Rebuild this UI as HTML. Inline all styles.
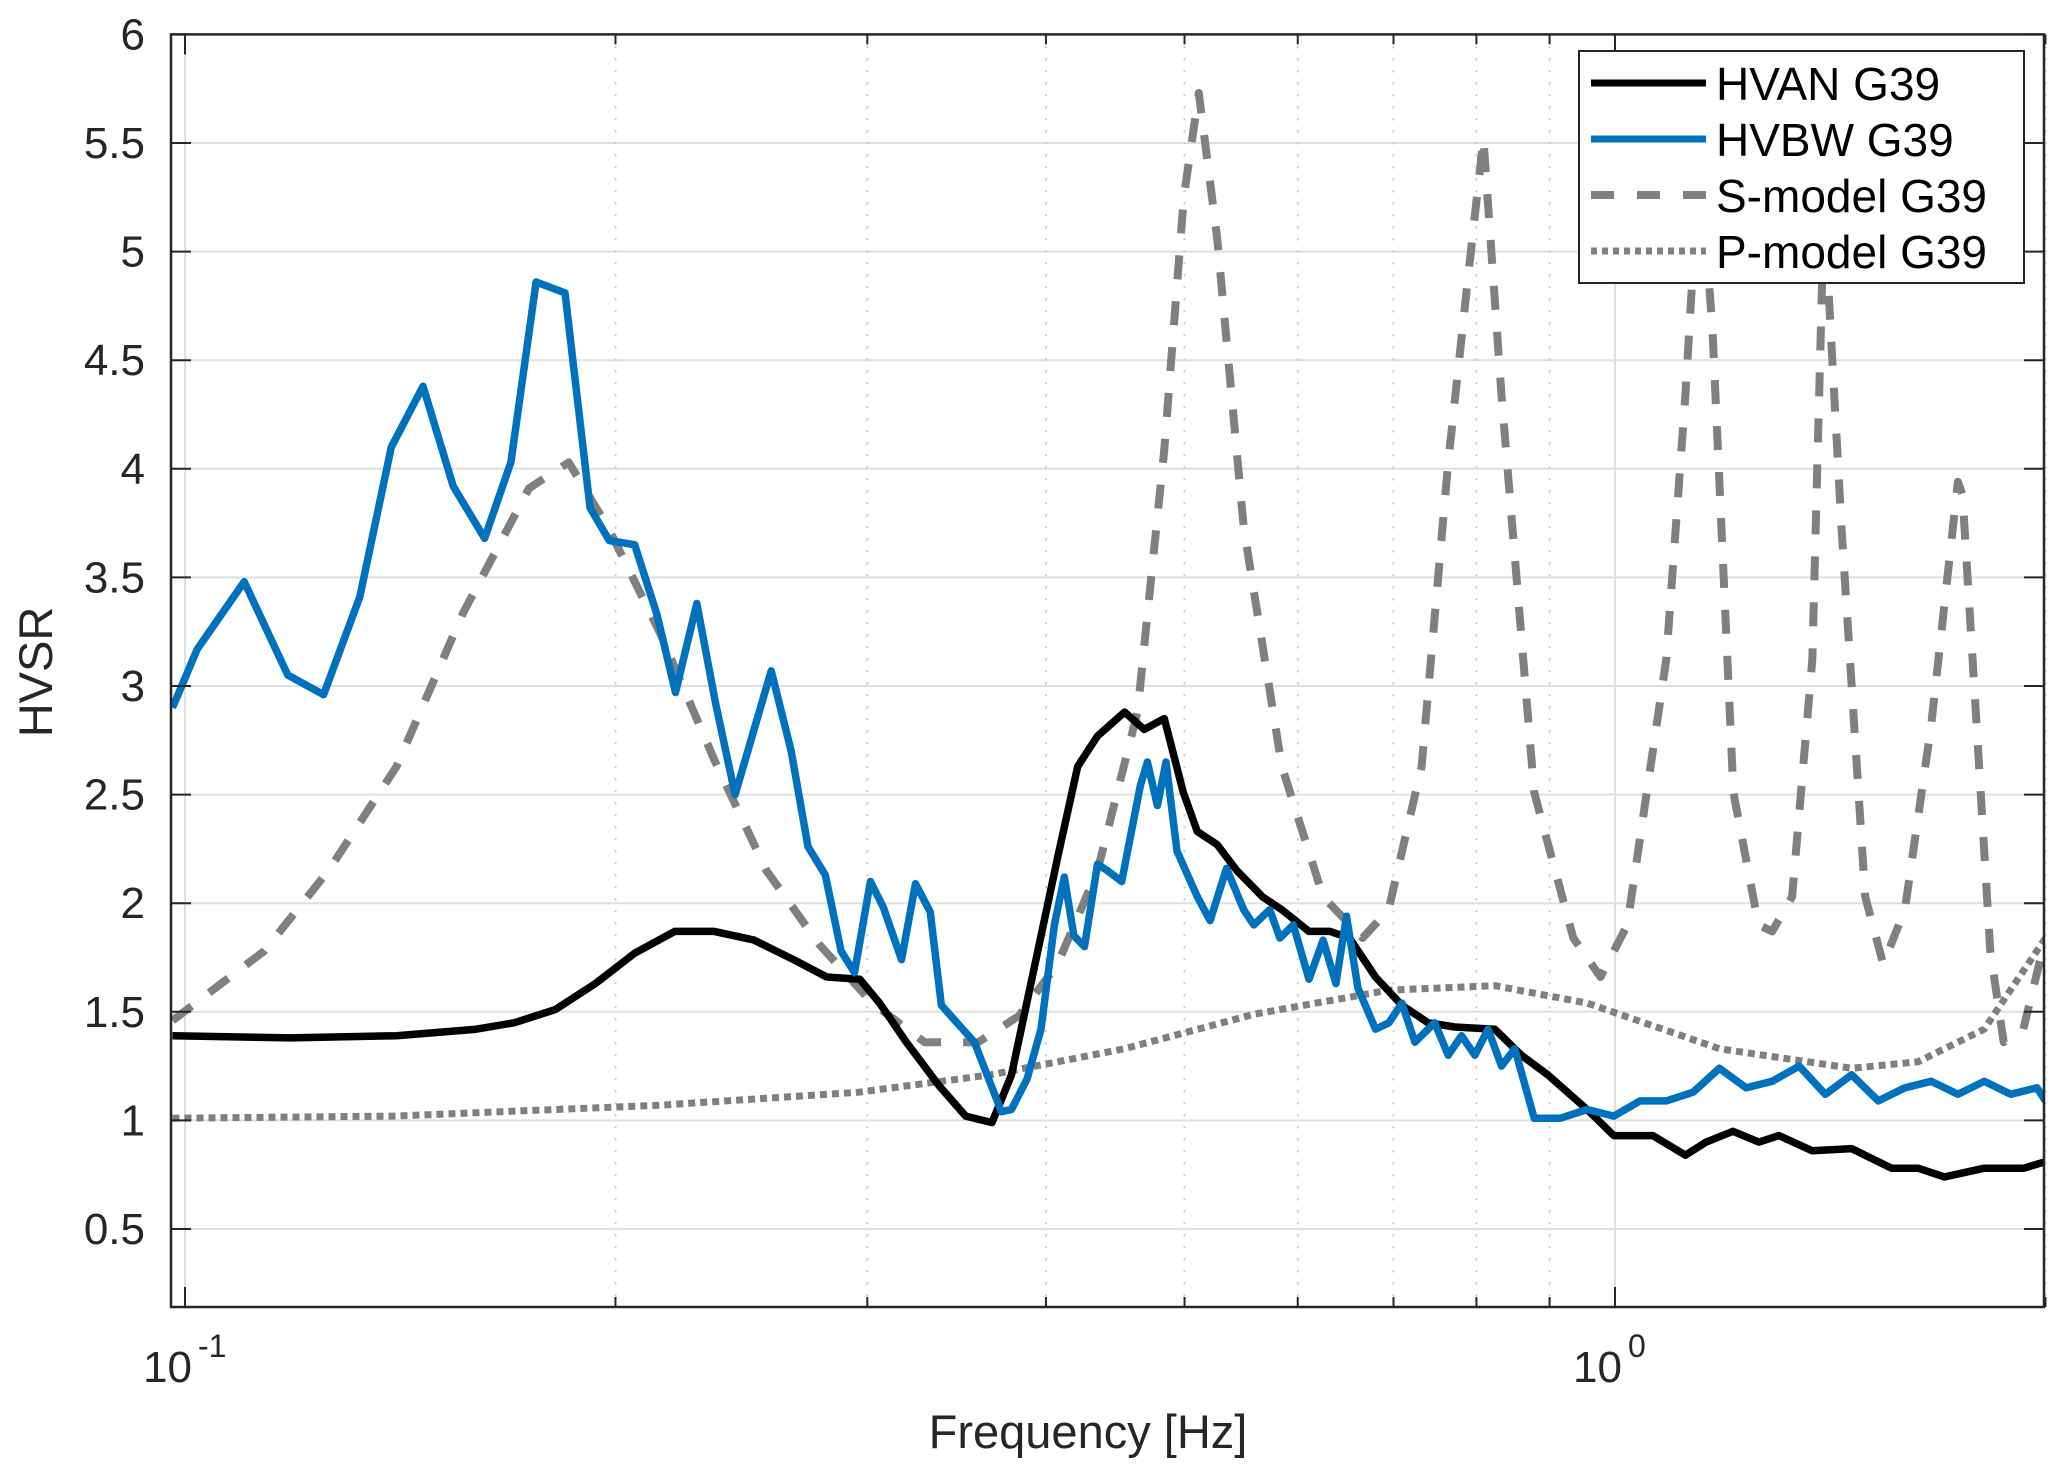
<!DOCTYPE html>
<html><head><meta charset="utf-8"><style>
html,body{margin:0;padding:0;background:#fff;}
svg{display:block;font-family:"Liberation Sans",sans-serif;}
</style></head><body>
<svg id="chart" width="2067" height="1473" viewBox="0 0 2067 1473">
<g id="grid"></g>
<g id="series"></g>
<g id="axes"></g>
<text x="1088" y="1448" font-size="47" fill="#262626" text-anchor="middle">Frequency [Hz]</text>
<text transform="translate(52,672) rotate(-90)" font-size="47" fill="#262626" text-anchor="middle">HVSR</text>
<g>
<rect x="1579" y="51" width="445" height="232" fill="#fff" stroke="#262626" stroke-width="2"/>
<line x1="1591" y1="83" x2="1706" y2="83" stroke="#000" stroke-width="7"/>
<line x1="1591" y1="139" x2="1706" y2="139" stroke="#0072bd" stroke-width="7"/>
<line x1="1591" y1="195" x2="1706" y2="195" stroke="#808080" stroke-width="8" stroke-dasharray="23,23"/>
<line x1="1591" y1="251" x2="1706" y2="251" stroke="#808080" stroke-width="7" stroke-dasharray="6,5"/>
<text x="1716" y="100" font-size="46" fill="#000">HVAN G39</text>
<text x="1716" y="156" font-size="46" fill="#000">HVBW G39</text>
<text x="1716" y="212" font-size="46" fill="#000">S-model G39</text>
<text x="1716" y="268" font-size="46" fill="#000">P-model G39</text>
</g>
</svg>
<script>
const yTicks=[0.5,1,1.5,2,2.5,3,3.5,4,4.5,5,5.5,6];
const yTickLabels=["0.5","1","1.5","2","2.5","3","3.5","4","4.5","5","5.5","6"];
const xMajor=[0.1,1];
const xMinor=[0.2,0.3,0.4,0.5,0.6,0.7,0.8,0.9,2];
const hvbwF=[0.098,0.102,0.110,0.118,0.125,0.1325,0.1394,0.1467,0.154,0.162,0.169,0.176,0.1844,0.192,0.198,0.2063,0.2138,0.2203,0.228,0.235,0.2425,0.257,0.2654,0.2727,0.2804,0.2876,0.2939,0.3015,0.3079,0.317,0.3242,0.332,0.338,0.3565,0.3723,0.3784,0.388,0.3968,0.4055,0.412,0.4184,0.4256,0.4346,0.4416,0.4519,0.4656,0.471,0.4786,0.4853,0.494,0.5104,0.521,0.535,0.55,0.559,0.5735,0.583,0.5957,0.611,0.625,0.638,0.649,0.661,0.680,0.695,0.7096,0.7245,0.748,0.7645,0.781,0.798,0.815,0.833,0.851,0.878,0.916,0.956,0.998,1.041,1.086,1.134,1.183,1.235,1.288,1.345,1.403,1.464,1.528,1.595,1.664,1.737,1.812,1.891,1.973,2.0];
const hvbwV=[2.9,3.17,3.48,3.05,2.96,3.41,4.10,4.38,3.92,3.68,4.03,4.86,4.81,3.82,3.67,3.65,3.33,2.97,3.38,2.92,2.50,3.07,2.70,2.26,2.13,1.78,1.68,2.10,1.98,1.74,2.09,1.96,1.53,1.36,1.04,1.05,1.19,1.42,1.9,2.12,1.85,1.80,2.18,2.15,2.10,2.54,2.65,2.45,2.65,2.24,2.03,1.92,2.16,1.97,1.90,1.97,1.84,1.90,1.65,1.83,1.63,1.94,1.61,1.42,1.45,1.54,1.36,1.45,1.30,1.39,1.30,1.42,1.25,1.33,1.01,1.01,1.05,1.02,1.09,1.09,1.13,1.24,1.15,1.18,1.25,1.12,1.21,1.09,1.15,1.18,1.12,1.18,1.12,1.15,1.09];
const hvanF=[0.098,0.1186,0.1406,0.1598,0.170,0.1815,0.1936,0.2063,0.220,0.2345,0.250,0.2665,0.281,0.2964,0.306,0.3195,0.3367,0.3515,0.3667,0.3784,0.3948,0.4076,0.421,0.4346,0.454,0.4686,0.484,0.499,0.5104,0.527,0.544,0.5668,0.5848,0.611,0.632,0.652,0.68,0.7096,0.74,0.7725,0.824,0.86,0.8975,0.956,0.998,1.063,1.12,1.158,1.209,1.261,1.302,1.374,1.464,1.561,1.629,1.70,1.812,1.931,2.0];
const hvanV=[1.39,1.38,1.39,1.42,1.45,1.51,1.63,1.77,1.87,1.87,1.83,1.74,1.66,1.65,1.54,1.36,1.16,1.02,0.99,1.21,1.78,2.21,2.63,2.77,2.88,2.80,2.85,2.51,2.33,2.27,2.15,2.03,1.97,1.87,1.87,1.84,1.66,1.53,1.45,1.43,1.42,1.30,1.21,1.05,0.93,0.93,0.84,0.90,0.95,0.90,0.93,0.86,0.87,0.78,0.78,0.74,0.78,0.78,0.81];
const sF=[0.098,0.1136,0.126,0.1406,0.1563,0.174,0.1855,0.1976,0.215,0.2345,0.255,0.2777,0.3025,0.329,0.3587,0.3828,0.4076,0.4346,0.4635,0.484,0.4994,0.5116,0.527,0.55,0.5848,0.625,0.666,0.6945,0.7324,0.7645,0.791,0.809,0.833,0.878,0.935,0.977,1.02,1.086,1.12,1.137,1.15,1.17,1.21,1.26,1.288,1.33,1.374,1.40,1.44,1.496,1.54,1.595,1.664,1.737,1.75,1.79,1.83,1.87,1.93,2.0];
const sV=[1.46,1.78,2.15,2.63,3.33,3.91,4.03,3.73,3.24,2.66,2.15,1.81,1.54,1.36,1.36,1.48,1.72,2.15,2.88,4.09,5.25,5.73,5.06,3.73,2.63,2.03,1.84,1.97,2.63,4.03,4.94,5.52,4.34,2.51,1.84,1.66,1.90,3.12,4.34,5.06,5.3,4.64,2.51,1.90,1.87,2.03,3.12,5.2,3.73,2.03,1.72,1.97,2.82,3.94,3.88,2.82,1.78,1.36,1.42,1.84];
const pF=[0.098,0.14,0.215,0.296,0.366,0.454,0.56,0.695,0.824,0.956,1.183,1.464,1.629,1.812,2.0];
const pV=[1.01,1.02,1.07,1.13,1.21,1.33,1.49,1.60,1.62,1.54,1.33,1.24,1.27,1.42,1.84];

const L=171,R=2044,T=34.4,B=1307;
const X0=185,DEC=1430,Y6=34.4,UNIT=217.2;
function xs(f){return X0+(Math.log10(f)+1)*DEC;}
function ys(v){return Y6+(6-v)*UNIT;}
const NS="http://www.w3.org/2000/svg";
function mk(tag,attrs,parent){const e=document.createElementNS(NS,tag);for(const k in attrs)e.setAttribute(k,attrs[k]);parent.appendChild(e);return e;}
const grid=document.getElementById('grid'),axes=document.getElementById('axes'),series=document.getElementById('series');

yTicks.forEach((v,i)=>{
  const y=ys(v);
  if(v<6){const g=mk('line',{x1:L,y1:y,x2:R,y2:y,stroke:'#e0e0e0','stroke-width':2},grid);
  
  }
  const t=mk('line',{x1:L,y1:y,x2:L+20,y2:y,stroke:'#262626','stroke-width':2},axes);
  
  
  const t2=mk('line',{x1:R,y1:y,x2:R-20,y2:y,stroke:'#262626','stroke-width':2},axes);
  
  
  const lb=mk('text',{x:145,y:y+15,'font-size':44,fill:'#262626','text-anchor':'end'},axes);
  lb.textContent=yTickLabels[i];
  
  
});
xMinor.forEach(f=>{
  const x=xs(f);
  const g=mk('line',{x1:x,y1:T,x2:x,y2:B,stroke:'#c8c8c8','stroke-width':2,'stroke-dasharray':'2,10'},grid);
  
  
  const t=mk('line',{x1:x,y1:B,x2:x,y2:B-10,stroke:'#262626','stroke-width':2},axes);
  
  
  const t2=mk('line',{x1:x,y1:T,x2:x,y2:T+10,stroke:'#262626','stroke-width':2},axes);
  
  
});
xMajor.forEach((f,i)=>{
  const x=xs(f);
  const g=mk('line',{x1:x,y1:T,x2:x,y2:B,stroke:'#e0e0e0','stroke-width':2},grid);
  
  
  const t=mk('line',{x1:x,y1:B,x2:x,y2:B-20,stroke:'#262626','stroke-width':2},axes);
  
  
  const t2=mk('line',{x1:x,y1:T,x2:x,y2:T+20,stroke:'#262626','stroke-width':2},axes);
  
  
  const lb=mk('text',{x:x-42,y:1382,'font-size':44,fill:'#262626'},axes);
  lb.textContent='10';
  
  
  const ex=mk('text',{x:x+13,y:1357,'font-size':32,fill:'#262626'},axes);
  ex.textContent=Math.round(Math.log10(f)).toString();
  
  
});
const box=mk('rect',{x:L,y:T,width:R-L,height:B-T,fill:'none',stroke:'#262626','stroke-width':2.5},axes);



function pts(F,V){return F.map((f,i)=>xs(f).toFixed(1)+','+ys(V[i]).toFixed(1)).join(' ');}
const clip=mk('clipPath',{id:'pc'},series);mk('rect',{x:L,y:T,width:R-L,height:B-T},clip);
const p1=mk('polyline',{points:pts(pF,pV),fill:'none',stroke:'#808080','stroke-width':7,'stroke-dasharray':'7,5','clip-path':'url(#pc)'},series);


const p2=mk('polyline',{points:pts(sF,sV),fill:'none',stroke:'#808080','stroke-width':8,'stroke-dasharray':'24,22','stroke-linejoin':'round','clip-path':'url(#pc)'},series);


const p3=mk('polyline',{points:pts(hvanF,hvanV),fill:'none',stroke:'#000','stroke-width':7.5,'stroke-linejoin':'round','clip-path':'url(#pc)'},series);


const p4=mk('polyline',{points:pts(hvbwF,hvbwV),fill:'none',stroke:'#0072bd','stroke-width':7.5,'stroke-linejoin':'round','clip-path':'url(#pc)'},series);


</script>
</body></html>
